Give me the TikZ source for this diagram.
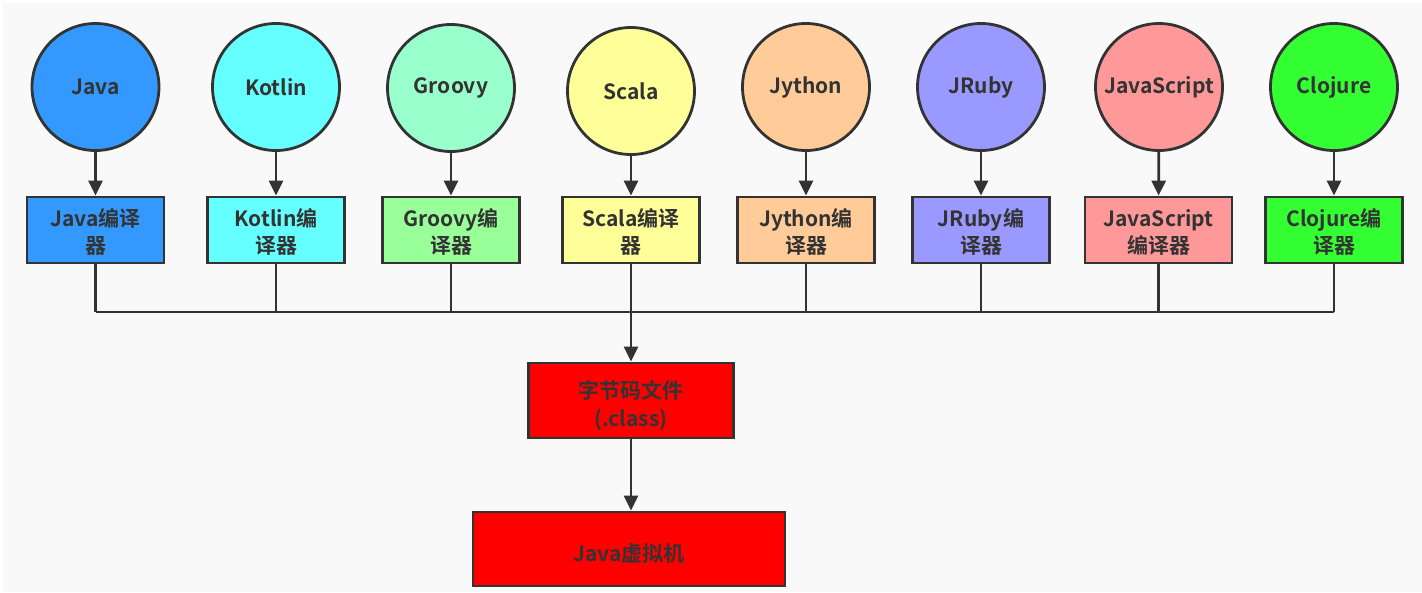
\documentclass[tikz,border=0pt]{standalone}
\usepackage{fontspec}
\setmainfont{Noto Sans CJK SC}[BoldFont={Noto Sans CJK SC Bold}]
\usetikzlibrary{arrows.meta}
\definecolor{ink}{HTML}{333333}
\definecolor{bgc}{HTML}{F9F9F9}
\definecolor{cjava}{HTML}{3399FF}
\definecolor{ckotlin}{HTML}{66FFFF}
\definecolor{cgroovyc}{HTML}{99FFCC}
\definecolor{cgroovyb}{HTML}{99FF99}
\definecolor{cscala}{HTML}{FFFF99}
\definecolor{cjython}{HTML}{FFCC99}
\definecolor{cjruby}{HTML}{9999FF}
\definecolor{cjs}{HTML}{FF9999}
\definecolor{cclj}{HTML}{33FF33}
\definecolor{cred}{HTML}{FF0000}
\begin{document}
\begin{tikzpicture}[x=1pt,y=-1pt,
  lang/.style={circle,draw=ink,line width=2.8pt,minimum size=127pt,inner sep=0pt,
    font=\bfseries\fontsize{21}{25}\selectfont,text=ink},
  comp/.style={rectangle,draw=ink,line width=2.8pt,minimum width=137pt,minimum height=66pt,
    inner sep=0pt},
  comptext/.style={align=center,inner sep=0pt,font=\bfseries\fontsize{21}{27}\selectfont,text=ink},
  big/.style={rectangle,draw=ink,line width=2.8pt,fill=cred,inner sep=0pt},
  bigtext/.style={align=center,inner sep=0pt,font=\bfseries\fontsize{21}{28}\selectfont,text=ink},
  arr/.style={draw=ink,line width=2.8pt,-{Triangle[length=15pt,width=14pt]}},
  wire/.style={draw=ink,line width=2.6pt}]
\fill[white] (0,0) rectangle (1422,592);
\fill[bgc] (3,3) rectangle (1422,592);
\useasboundingbox (0,0) rectangle (1422,592);

\node[lang,fill=cjava]    (c1) at (95.5,87)  {Java};
\node[lang,fill=ckotlin]  (c2) at (276,87)   {Kotlin};
\node[lang,fill=cgroovyc] (c3) at (451,88)   {Groovy};
\node[lang,fill=cscala]   (c4) at (631,91)   {Scala};
\node[lang,fill=cjython]  (c5) at (806,87)   {Jython};
\node[lang,fill=cjruby]   (c6) at (981,87)   {JRuby};
\node[lang,fill=cjs]      (c7) at (1159,87)  {JavaScript};
\node[lang,fill=cclj]     (c8) at (1334,87)  {Clojure};

\node[comp,fill=cjava]    (b1) at (95.5,230) {};
\node[comp,fill=ckotlin]  (b2) at (276,230)  {};
\node[comp,fill=cgroovyb] (b3) at (451,230)  {};
\node[comp,fill=cscala]   (b4) at (631,230)  {};
\node[comp,fill=cjython]  (b5) at (806,230)  {};
\node[comp,fill=cjruby]   (b6) at (981,230)  {};
\node[comp,fill=cjs,minimum width=147pt] (b7) at (1158.5,230) {};
\node[comp,fill=cclj]     (b8) at (1334,230) {};
\node[comptext] (t1) at (95.5,232) {Java编译\\器};
\node[comptext] (t2) at (276,232)  {Kotlin编\\译器};
\node[comptext] (t3) at (451,232)  {Groovy编\\译器};
\node[comptext] (t4) at (631,232)  {Scala编译\\器};
\node[comptext] (t5) at (806,232)  {Jython编\\译器};
\node[comptext] (t6) at (981,232)  {JRuby编\\译器};
\node[comptext] (t7) at (1158.5,232) {JavaScript\\编译器};
\node[comptext] (t8) at (1334,232) {Clojure编\\译器};

\node[big,minimum width=205pt,minimum height=75pt] (bc) at (631,400.5) {};
\node[bigtext] (bct) at (631,406) {字节码文件\\(.class)};
\node[big,minimum width=312pt,minimum height=74pt] (jvm) at (629,549) {};
\node[bigtext] (jvmt) at (629,554) {Java虚拟机};

\foreach \i in {1,...,8} { \draw[arr] (c\i) -- (b\i); }

\coordinate (busy) at (0,312);
\foreach \i in {1,2,3,5,6,7,8} { \draw[wire] (b\i.south) -- (b\i.south |- busy); }
\draw[wire] (b1.south |- busy) -- (b8.south |- busy);
\draw[arr] (b4.south) -- (bc.north);
\draw[arr] (bc.south) -- (jvm.north -| bc.south);
\end{tikzpicture}
\end{document}
